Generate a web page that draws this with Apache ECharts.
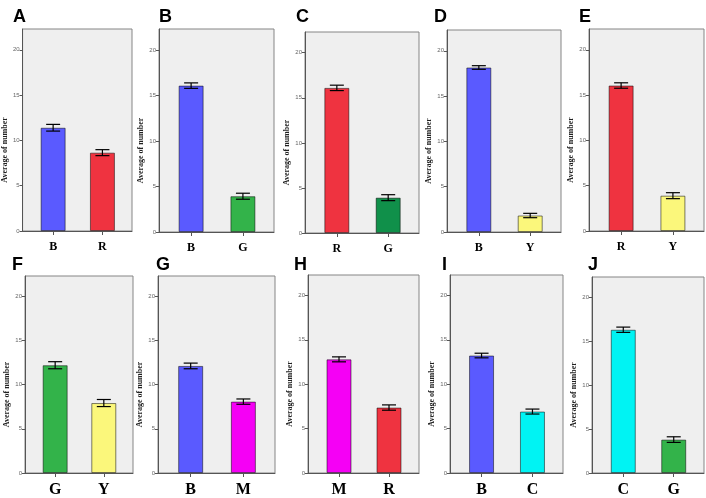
<!DOCTYPE html>
<html>
<head>
<meta charset="utf-8">
<script src="https://cdn.jsdelivr.net/npm/echarts@6/dist/echarts.min.js"></script>
<style>
  html, body { margin: 0; padding: 0; background: #fff; }
  #main { width: 706px; height: 498px; }
</style>
</head>
<body>
<div id="main"></div>
<script>
// panel letters, categories and values
var panelLetters = ['A', 'B', 'C', 'D', 'E', 'F', 'G', 'H', 'I', 'J'];
var panelCats = [
  ['B', 'R'], ['B', 'G'], ['R', 'G'], ['B', 'Y'], ['R', 'Y'],
  ['G', 'Y'], ['B', 'M'], ['M', 'R'], ['B', 'C'], ['C', 'G']
];
var panelMeans = [
  [11.4, 8.65], [16.08, 3.93], [16.1, 3.92], [18.16, 1.82], [16.06, 3.9],
  [12.2, 7.92], [12.12, 8.08], [12.8, 7.37], [13.23, 6.92], [16.3, 3.8]
];
var panelErrs = [
  [0.37, 0.33], [0.3, 0.33], [0.3, 0.33], [0.2, 0.24], [0.3, 0.33],
  [0.4, 0.4], [0.32, 0.3], [0.28, 0.3], [0.26, 0.28], [0.3, 0.32]
];
var yTicks = [0, 5, 10, 15, 20];
var yName = 'Average of number';

// styles
var colorOf = { B: '#5a5aff', R: '#ef3340', G: '#33b34a', Y: '#fbf77b', M: '#f500f5', C: '#00f3f3' };
var darkGreen = '#10904a';
// grid boxes [left, top, width, height]
var boxes = [
  [21, 29, 111, 202], [159, 29, 115, 203], [305, 32, 114, 201], [447, 30, 114, 202], [589, 29, 115, 202],
  [25, 276, 108, 201], [158, 276, 117, 200], [308, 275, 111, 201], [450, 275, 113, 200], [592, 277, 112, 198]
];
var letterPos = [
  [13, 8], [159, 8], [296, 8], [434, 8], [579, 8],
  [12, 256], [156, 256], [294, 256], [442, 256], [588, 256]
];

var myChart = echarts.init(document.getElementById('main'));

var titles = [], grids = [], xAxes = [], yAxes = [], series = [];

panelLetters.forEach(function (letter, i) {
  var row2 = i >= 5;
  var cats = panelCats[i];
  var b = boxes[i];

  titles.push({
    text: letter,
    left: letterPos[i][0],
    top: letterPos[i][1],
    padding: 0,
    textStyle: { fontFamily: 'Liberation Sans', fontWeight: 'bold', fontSize: 18, color: '#000' }
  });

  grids.push({
    left: b[0], top: b[1], width: b[2], height: b[3],
    show: true, backgroundColor: '#efefef', borderColor: '#858585', borderWidth: 1
  });

  xAxes.push({
    gridIndex: i,
    type: 'value',
    min: -0.62,
    max: 1.6,
    axisLine: { show: true, onZero: false, lineStyle: { color: '#555', width: 1 } },
    axisTick: { show: true, customValues: [0, 1], length: 4, lineStyle: { color: '#555' } },
    axisLabel: {
      customValues: [0, 1],
      margin: row2 ? 9 : 10,
      fontFamily: 'Liberation Serif',
      fontWeight: 'bold',
      fontSize: row2 ? 16 : 12,
      color: '#000',
      formatter: function (v) { return cats[Math.round(v)]; }
    },
    splitLine: { show: false }
  });

  yAxes.push({
    gridIndex: i,
    type: 'value',
    min: 0,
    max: 22.3,
    interval: 5,
    name: yName,
    nameLocation: 'middle',
    nameGap: 9,
    nameTextStyle: {
      fontFamily: 'Liberation Serif', fontWeight: 'bold', fontSize: 8, color: '#222',
      padding: [0, 40, 0, 0]
    },
    axisLine: { show: true, onZero: false, lineStyle: { color: '#555', width: 1 } },
    axisTick: { show: true, customValues: yTicks, length: 3, lineStyle: { color: '#555' } },
    axisLabel: { customValues: yTicks, fontSize: 6, color: '#666', margin: 3, fontFamily: 'Liberation Sans' },
    splitLine: { show: false }
  });

  series.push({
    type: 'bar',
    xAxisIndex: i,
    yAxisIndex: i,
    barWidth: 25,
    data: panelMeans[i].map(function (v, k) {
      var c = colorOf[cats[k]];
      if (letter === 'C' && cats[k] === 'G') c = darkGreen;
      return { value: [k, v], itemStyle: { color: c } };
    }),
    itemStyle: { borderColor: 'rgba(0,0,0,0.5)', borderWidth: 1 },
    silent: true
  });

  series.push({
    type: 'custom',
    xAxisIndex: i,
    yAxisIndex: i,
    z: 5,
    silent: true,
    data: panelMeans[i].map(function (v, k) { return [k, v, panelErrs[i][k]]; }),
    renderItem: function (params, api) {
      var x = api.value(0), m = api.value(1), e = api.value(2);
      var hi = api.coord([x, m + e]);
      var lo = api.coord([x, m - e]);
      var hw = 7;
      var st = { stroke: '#000', lineWidth: 1.2 };
      return {
        type: 'group',
        children: [
          { type: 'line', shape: { x1: hi[0], y1: hi[1], x2: lo[0], y2: lo[1] }, style: st },
          { type: 'line', shape: { x1: hi[0] - hw, y1: hi[1], x2: hi[0] + hw, y2: hi[1] }, style: st },
          { type: 'line', shape: { x1: lo[0] - hw, y1: lo[1], x2: lo[0] + hw, y2: lo[1] }, style: st }
        ]
      };
    }
  });
});

myChart.setOption({
  animation: false,
  title: titles,
  grid: grids,
  xAxis: xAxes,
  yAxis: yAxes,
  series: series
});
</script>
</body>
</html>
